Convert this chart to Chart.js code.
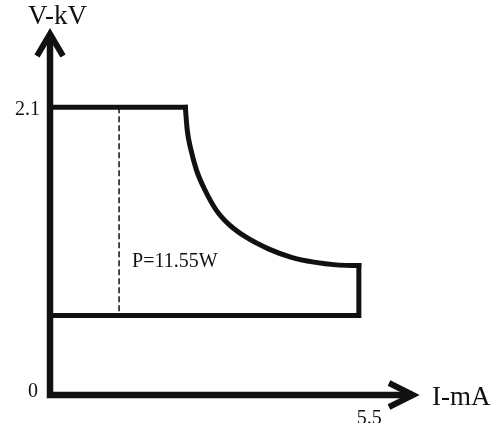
<!DOCTYPE html>
<html>
<head>
<meta charset="utf-8">
<script src="https://cdn.jsdelivr.net/npm/chart.js@4"></script>
<style>
  body { margin: 0; background: #fff; }
  canvas { display: block; }
</style>
</head>
<body>
<canvas id="vi-chart" width="497" height="423"></canvas>
<script>
// Voltage / current envelope (V in kV, I in mA)
const curveCurrent = [2.41, 2.445, 2.51, 2.61, 2.755, 2.96, 3.20, 3.50, 3.90, 4.30, 4.70, 5.10, 5.50];
const curveVoltage = [2.10, 1.93, 1.79, 1.64, 1.50, 1.35, 1.24, 1.15, 1.065, 1.005, 0.97, 0.95, 0.945];
const maxVoltage = 2.1;
const minVoltage = 0.58;
const maxCurrent = 5.5;
const dashCurrent = 1.23;
const yTicks = ['2.1', '0'];
const xTicks = ['5.5'];
const yTitle = 'V-kV';
const xTitle = 'I-mA';
const powerLabel = 'P=11.55W';

const curvePoints = curveCurrent.map((c, i) => ({ x: c, y: curveVoltage[i] }));

const ink = '#111';
const serif = '"Liberation Serif", "Times New Roman", serif';

// Axes with arrow heads and the text labels
const axesPlugin = {
  id: 'axesPlugin',
  afterDatasetsDraw(chart) {
    const ctx = chart.ctx;
    const xs = chart.scales.x;
    const ys = chart.scales.y;
    const x0 = xs.getPixelForValue(0);
    const y0 = ys.getPixelForValue(0);
    const xEnd = xs.getPixelForValue(xs.max);
    const yEnd = ys.getPixelForValue(ys.max);

    ctx.save();
    ctx.strokeStyle = ink;
    ctx.lineWidth = 6.5;
    ctx.lineJoin = 'miter';
    ctx.lineCap = 'butt';

    // axis lines
    ctx.beginPath();
    ctx.moveTo(x0, yEnd + 3);
    ctx.lineTo(x0, y0);
    ctx.lineTo(xEnd - 3, y0);
    ctx.stroke();

    // arrow heads
    ctx.lineWidth = 6;
    ctx.beginPath();
    ctx.moveTo(x0 - 13, yEnd + 24);
    ctx.lineTo(x0, yEnd + 2);
    ctx.lineTo(x0 + 13, yEnd + 24);
    ctx.stroke();
    ctx.beginPath();
    ctx.moveTo(xEnd - 26, y0 - 12);
    ctx.lineTo(xEnd - 2, y0);
    ctx.lineTo(xEnd - 26, y0 + 12);
    ctx.stroke();

    // labels
    ctx.fillStyle = ink;
    ctx.textBaseline = 'alphabetic';
    ctx.font = '27px ' + serif;
    ctx.textAlign = 'left';
    ctx.fillText(yTitle, x0 - 22, yEnd - 8);
    ctx.fillText(xTitle, xEnd + 17, y0 + 10);

    ctx.font = '20px ' + serif;
    ctx.textAlign = 'right';
    ctx.fillText(yTicks[0], x0 - 10, ys.getPixelForValue(2.1) + 7.5);
    ctx.fillText(yTicks[1], x0 - 12, y0 + 2);
    ctx.textAlign = 'left';
    ctx.fillText(xTicks[0], xs.getPixelForValue(5.5) - 2, y0 + 29);
    ctx.fillText(powerLabel, xs.getPixelForValue(dashCurrent) + 13, ys.getPixelForValue(1.0) + 9);
    ctx.restore();
  }
};

new Chart(document.getElementById('vi-chart'), {
  type: 'scatter',
  data: {
    datasets: [
      {
        data: curvePoints,
        showLine: true,
        borderColor: ink,
        borderWidth: 5,
        pointRadius: 0,
        cubicInterpolationMode: 'monotone',
        borderCapStyle: 'square'
      },
      {
        data: [{ x: 0, y: maxVoltage }, { x: curveCurrent[0], y: maxVoltage }],
        showLine: true,
        borderColor: ink,
        borderWidth: 5,
        pointRadius: 0,
        borderCapStyle: 'square'
      },
      {
        data: [
          { x: maxCurrent, y: curveVoltage[curveVoltage.length - 1] },
          { x: maxCurrent, y: minVoltage },
          { x: 0, y: minVoltage }
        ],
        showLine: true,
        borderColor: ink,
        borderWidth: 5,
        pointRadius: 0,
        borderJoinStyle: 'miter',
        borderCapStyle: 'square'
      },
      {
        data: [{ x: dashCurrent, y: maxVoltage }, { x: dashCurrent, y: minVoltage }],
        showLine: true,
        borderColor: ink,
        borderWidth: 1.5,
        borderDash: [6, 3],
        pointRadius: 0
      }
    ]
  },
  options: {
    responsive: false,
    animation: false,
    devicePixelRatio: 1,
    layout: { padding: { left: 50, right: 82, top: 32, bottom: 28 } },
    plugins: { legend: { display: false }, tooltip: { enabled: false } },
    scales: {
      x: { type: 'linear', min: 0, max: 6.5, display: false },
      y: { type: 'linear', min: 0, max: 2.65, display: false }
    }
  },
  plugins: [axesPlugin]
});
</script>
</body>
</html>
